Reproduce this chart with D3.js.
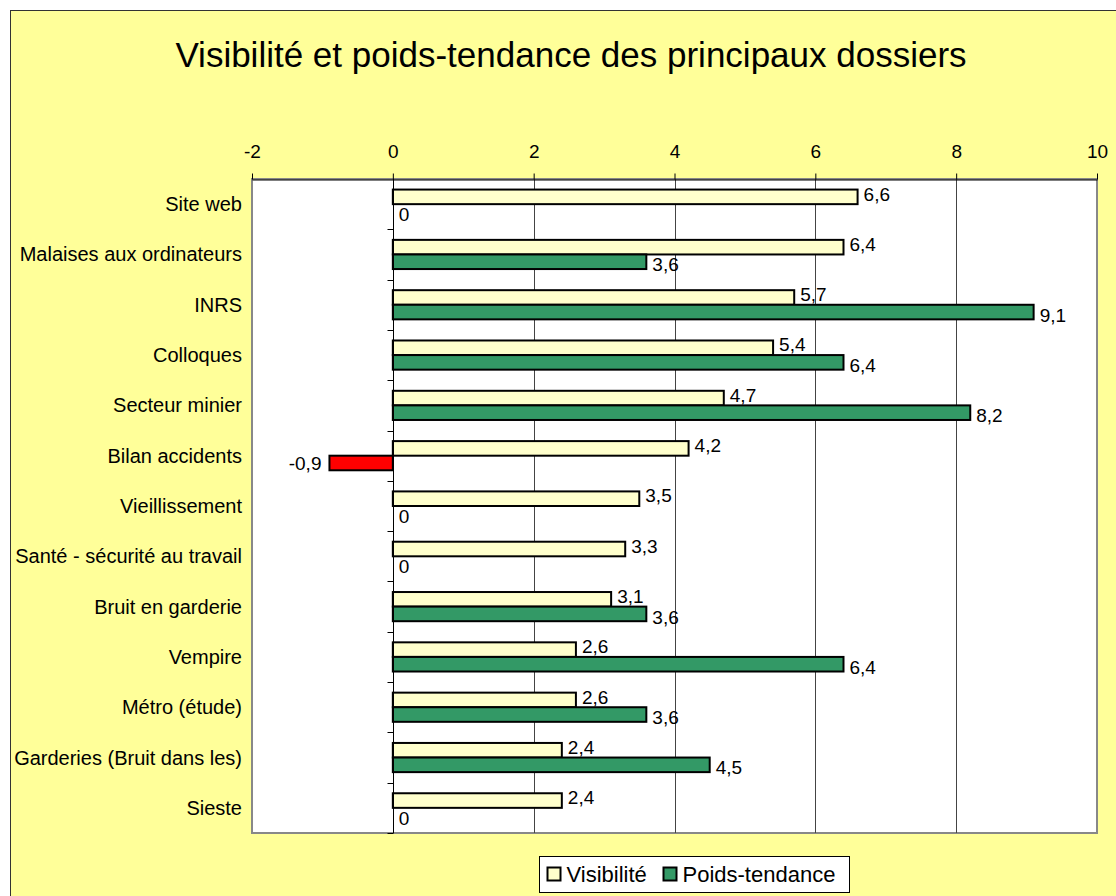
<!DOCTYPE html>
<html>
<head>
<meta charset="utf-8">
<script src="https://cdn.jsdelivr.net/npm/d3@7"></script>
<style>
  html, body { margin: 0; padding: 0; background: #fff; }
  svg { display: block; font-family: "Liberation Sans", Arial, sans-serif; }
</style>
</head>
<body>
<div class="chart"></div>
<script>
// chart values
const categories = ["Site web", "Malaises aux ordinateurs", "INRS", "Colloques", "Secteur minier",
  "Bilan accidents", "Vieillissement", "Santé - sécurité au travail", "Bruit en garderie",
  "Vempire", "Métro (étude)", "Garderies (Bruit dans les)", "Sieste"];
const visibilite = [6.6, 6.4, 5.7, 5.4, 4.7, 4.2, 3.5, 3.3, 3.1, 2.6, 2.6, 2.4, 2.4];
const poidsTendance = [0, 3.6, 9.1, 6.4, 8.2, -0.9, 0, 0, 3.6, 6.4, 3.6, 4.5, 0];
const xTicks = [-2, 0, 2, 4, 6, 8, 10];
const seriesNames = ["Visibilité", "Poids-tendance"];

var cfg = {
  width: 1116,
  height: 896,
  plot: {left: 252, top: 179, right: 1097, bottom: 833},
  colors: {bg: "#FFFF99", vis: "#FFFFCC", poids: "#339966", neg: "#FF0000"}
};

var scale = {
  x: d3.scaleLinear()
    .domain([-2, 10])
    .range([cfg.plot.left, cfg.plot.right]),
  y: d3.scaleBand()
    .domain(categories)
    .range([cfg.plot.top, cfg.plot.bottom])
    .paddingInner(0.42)
    .paddingOuter(0.21),
};
scale.sub = d3.scaleBand()
  .domain([0, 1])
  .range([0, scale.y.bandwidth()]);

// decimal comma, plain hyphen for negatives
const fmt = v => String(v).replace(".", ",");

var svg = d3.select(".chart").append("svg")
  .attr("width", cfg.width)
  .attr("height", cfg.height);

function initBackground(){
  // chart area
  svg.append("rect")
    .attr("x", 10.5).attr("y", 10.5)
    .attr("width", cfg.width + 20).attr("height", cfg.height + 20)
    .attr("fill", cfg.colors.bg)
    .attr("stroke", "#333").attr("stroke-width", 1);

  // plot area
  svg.append("rect")
    .attr("x", cfg.plot.left).attr("y", cfg.plot.top)
    .attr("width", cfg.plot.right - cfg.plot.left)
    .attr("height", cfg.plot.bottom - cfg.plot.top)
    .attr("fill", "#fff")
    .attr("stroke", "#888").attr("stroke-width", 2);

  svg.append("text")
    .attr("x", 571).attr("y", 67)
    .attr("text-anchor", "middle")
    .style("font-size", "35px")
    .text("Visibilité et poids-tendance des principaux dossiers");
}

function initGrid(){
  svg.append("g")
    .selectAll("line")
    .data(xTicks.filter(d => d > 0 && d < 10))
    .enter().append("line")
    .attr("x1", d => Math.round(scale.x(d)) + 0.5)
    .attr("x2", d => Math.round(scale.x(d)) + 0.5)
    .attr("y1", cfg.plot.top)
    .attr("y2", cfg.plot.bottom)
    .attr("stroke", "#444")
    .attr("stroke-width", 1);
}

function initAxis(){
  // value axis on top
  let xAxis = svg.append("g")
    .attr("transform", `translate(0, ${cfg.plot.top + 0.5})`)
    .call(d3.axisTop(scale.x).tickValues(xTicks).tickFormat(fmt)
      .tickSize(6).tickPadding(16).tickSizeOuter(0));
  xAxis.select(".domain").attr("stroke", "#000");
  xAxis.selectAll("line").attr("stroke", "#000");
  xAxis.selectAll("text")
    .style("font-size", "19px")
    .style("font-family", "Liberation Sans, Arial, sans-serif")
    .attr("fill", "#000");

  // category axis at zero
  let x0 = Math.round(scale.x(0)) + 0.5;
  let g = svg.append("g");
  g.append("line")
    .attr("x1", x0).attr("x2", x0)
    .attr("y1", cfg.plot.top).attr("y2", cfg.plot.bottom)
    .attr("stroke", "#000");
  let bounds = d3.range(categories.length + 1).map(i => cfg.plot.top + i * (cfg.plot.bottom - cfg.plot.top) / categories.length);
  g.selectAll(".cat-tick")
    .data(bounds.slice(1))
    .enter().append("line")
    .attr("class", "cat-tick")
    .attr("x1", x0 - 6).attr("x2", x0)
    .attr("y1", d => Math.round(d) + 0.5).attr("y2", d => Math.round(d) + 0.5)
    .attr("stroke", "#000");

  // category labels
  svg.append("g")
    .selectAll("text")
    .data(categories)
    .enter().append("text")
    .attr("x", 242)
    .attr("y", d => scale.y(d) + scale.y.bandwidth() / 2)
    .attr("dy", "0.35em")
    .attr("text-anchor", "end")
    .style("font-size", "20px")
    .text(d => d);
}

function initBars(){
  let series = [visibilite, poidsTendance];
  series.forEach((values, s) => {
    let g = svg.append("g");
    g.selectAll("rect")
      .data(values.map((v, i) => ({v: v, cat: categories[i]})))
      .enter().append("rect")
      .filter(d => d.v !== 0)
      .attr("x", d => scale.x(Math.min(0, d.v)))
      .attr("y", d => scale.y(d.cat) + scale.sub(s))
      .attr("width", d => Math.abs(scale.x(d.v) - scale.x(0)))
      .attr("height", scale.sub.bandwidth())
      .attr("fill", d => s === 0 ? cfg.colors.vis : (d.v < 0 ? cfg.colors.neg : cfg.colors.poids))
      .attr("stroke", "#000")
      .attr("stroke-width", 2);

    // value labels
    let off = s === 0 ? -3 : 3;
    g.selectAll("text")
      .data(values.map((v, i) => ({v: v, cat: categories[i]})))
      .enter().append("text")
      .attr("x", d => d.v < 0 ? scale.x(d.v) - 8 : scale.x(d.v) + 6)
      .attr("y", d => scale.y(d.cat) + scale.sub(s) + scale.sub.bandwidth() / 2 + (d.v < 0 ? 0 : off))
      .attr("dy", "0.35em")
      .attr("text-anchor", d => d.v < 0 ? "end" : "start")
      .style("font-size", "19px")
      .text(d => fmt(d.v));
  });
}

function initLegend(){
  let lg = svg.append("g").attr("transform", "translate(539.5, 856.5)");
  lg.append("rect")
    .attr("width", 310).attr("height", 36)
    .attr("fill", "#fff").attr("stroke", "#000");
  let items = [
    {name: seriesNames[0], color: cfg.colors.vis, x: 8},
    {name: seriesNames[1], color: cfg.colors.poids, x: 124}
  ];
  let it = lg.selectAll(".item").data(items).enter().append("g")
    .attr("transform", d => `translate(${d.x}, 0)`);
  it.append("rect")
    .attr("x", 0).attr("y", 11)
    .attr("width", 13).attr("height", 13)
    .attr("fill", d => d.color)
    .attr("stroke", "#000").attr("stroke-width", 2);
  it.append("text")
    .attr("x", 19).attr("y", 25)
    .style("font-size", "22px")
    .text(d => d.name);
}

initBackground();
initGrid();
initBars();
initAxis();
initLegend();
</script>
</body>
</html>
